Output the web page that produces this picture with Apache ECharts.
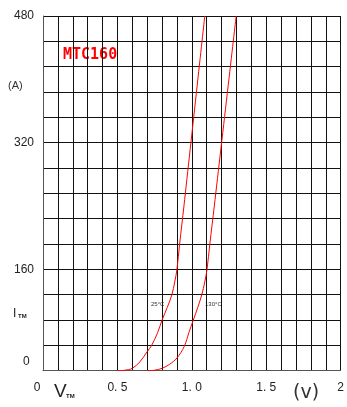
<!DOCTYPE html>
<html>
<head>
<meta charset="utf-8">
<script src="https://cdn.jsdelivr.net/npm/echarts@6/dist/echarts.min.js"></script>
<style>
  html, body { margin: 0; padding: 0; background: #fff; }
  #chart { width: 347px; height: 407px; }
</style>
</head>
<body>
<div id="chart"></div>
<script>
// On-state voltage (V) vs on-state current (A) for the MTC160 module
const curve25 = [
  [0.50, 32], [0.55, 32.6], [0.60, 35], [0.65, 43], [0.70, 56], [0.73, 64],
  [0.77, 80], [0.80, 96], [0.835, 112], [0.866, 128], [0.885, 144], [0.90, 160],
  [0.918, 192], [0.947, 240], [1.087, 480]
];
const curve130 = [
  [0.70, 32], [0.75, 32.6], [0.80, 35], [0.85, 40], [0.90, 48], [0.95, 63],
  [0.98, 80], [1.01, 96], [1.04, 112], [1.067, 128], [1.087, 144], [1.102, 160],
  [1.121, 192], [1.151, 240], [1.298, 480]
];
const yLabels = { 480: '480', 320: '320', 160: '160' };
const xLabels = { 0: '{z|0}', 5: '0. 5', 10: '1. 0', 15: '1. 5', 20: '2' };
const seriesNames = ['25°C', '130°C'];

const chart = echarts.init(document.getElementById('chart'), null, { renderer: 'canvas' });
const gridLine = { show: true, lineStyle: { color: '#111', width: 1 } };
const labelFont = 'Liberation Sans, Arial, sans-serif';

chart.setOption({
  animation: false,
  grid: { left: 43, right: 4, top: 16, bottom: 36.3 },
  xAxis: {
    type: 'value', min: 0, max: 2, interval: 0.1,
    axisLine: { show: true, lineStyle: { color: '#555', width: 1 } },
    axisTick: { show: false },
    splitLine: gridLine,
    axisLabel: {
      margin: 11, color: '#222', fontSize: 12, fontFamily: labelFont,
      showMaxLabel: true, showMinLabel: true,
      formatter: v => xLabels[Math.round(v * 10)] || '',
      rich: { z: { fontSize: 12, fontFamily: labelFont, color: '#222', padding: [0, 12, 0, 0] } }
    }
  },
  yAxis: {
    type: 'value', min: 32, max: 480, interval: 32,
    axisLine: { show: true, lineStyle: { color: '#555', width: 1 } },
    axisTick: { show: false },
    splitLine: gridLine,
    axisLabel: {
      margin: 9, color: '#222', fontSize: 12, fontFamily: labelFont,
      formatter: v => yLabels[Math.round(v)] || ''
    }
  },
  series: [
    {
      name: seriesNames[0], type: 'line', data: curve25, showSymbol: false,
      smooth: 0.35, clip: true,
      lineStyle: { color: '#ff0000', width: 1 }
    },
    {
      name: seriesNames[1], type: 'line', data: curve130, showSymbol: false,
      smooth: 0.35, clip: true,
      lineStyle: { color: '#ff0000', width: 1 }
    }
  ],
  graphic: [
    { type: 'text', left: 63, top: 48, style: { text: 'MTC160', fill: '#ff0000', font: 'bold 15px "DejaVu Sans Mono", monospace' } },
    { type: 'text', left: 8, top: 80, style: { text: '(A)', fill: '#333', font: '11px "Liberation Sans", Arial, sans-serif' } },
    { type: 'text', left: 23, top: 356, style: { text: '0', fill: '#222', font: '12px "Liberation Sans", Arial, sans-serif' } },
    { type: 'text', left: 13, top: 308, style: { text: 'I', fill: '#222', font: '12px "Liberation Sans", Arial, sans-serif' } },
    { type: 'text', left: 18, top: 313, style: { text: 'TM', fill: '#222', font: 'bold 6px "Liberation Sans", Arial, sans-serif' } },
    { type: 'text', left: 54, top: 382, style: { text: 'V', fill: '#222', font: '19px "Liberation Sans", Arial, sans-serif' } },
    { type: 'text', left: 66, top: 393, style: { text: 'TM', fill: '#222', font: 'bold 6px "Liberation Sans", Arial, sans-serif' } },
    { type: 'text', left: 293, top: 384, style: { text: '(v)', fill: '#333', font: '19px "DejaVu Sans", sans-serif' } },
    { type: 'text', left: 151, top: 301, style: { text: seriesNames[0], fill: '#333', font: '6px "Liberation Sans", Arial, sans-serif' } },
    { type: 'text', left: 205, top: 301, style: { text: seriesNames[1], fill: '#333', font: '6px "Liberation Sans", Arial, sans-serif' } }
  ]
});
</script>
</body>
</html>
